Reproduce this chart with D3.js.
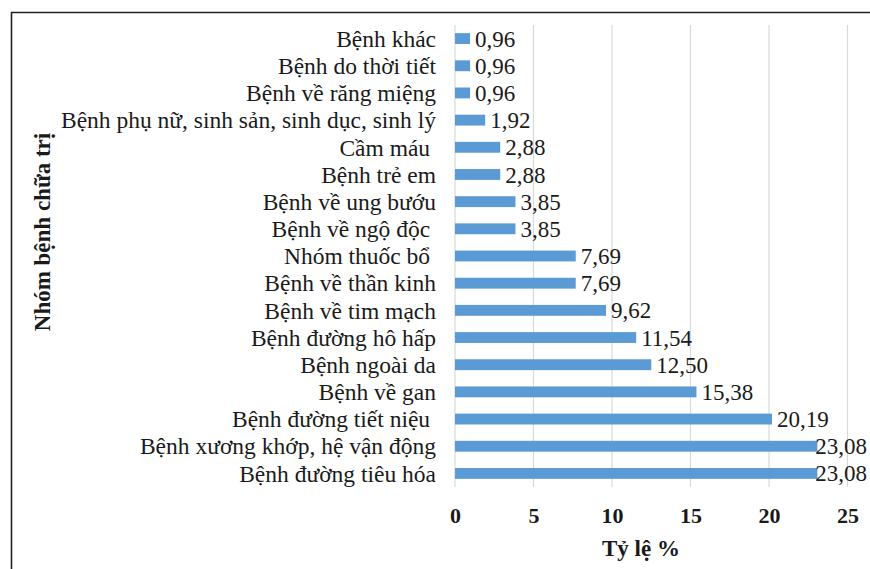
<!DOCTYPE html>
<html>
  <head>
    <meta charset="utf-8">
    <title>Nhóm bệnh chữa trị</title>
    <script src="https://d3js.org/d3.v7.min.js"></script>
    <style>
      body { margin: 0; background: #fff; }
      svg text { font-family: "Liberation Serif", "Times New Roman", serif; fill: #1a1a1a; }
      .tick text { font-weight: bold; font-size: 22px; }
    </style>
  </head>
  <body>
    <svg id="chart" width="870" height="569"></svg>
    <script>
      // chart data
      const categories = [
        "Bệnh khác",
        "Bệnh do thời tiết",
        "Bệnh về răng miệng",
        "Bệnh phụ nữ, sinh sản, sinh dục, sinh lý",
        "Cầm máu ",
        "Bệnh trẻ em",
        "Bệnh về ung bướu",
        "Bệnh về ngộ độc ",
        "Nhóm thuốc bổ ",
        "Bệnh về thần kinh",
        "Bệnh về tim mạch",
        "Bệnh đường hô hấp",
        "Bệnh ngoài da",
        "Bệnh về gan",
        "Bệnh đường tiết niệu ",
        "Bệnh xương khớp, hệ vận động",
        "Bệnh đường tiêu hóa"
      ];
      const values = [0.96, 0.96, 0.96, 1.92, 2.88, 2.88, 3.85, 3.85, 7.69, 7.69, 9.62, 11.54, 12.50, 15.38, 20.19, 23.08, 23.08];
      const xTicks = [0, 5, 10, 15, 20, 25];

      const data = categories.map(function(c, i) { return { name: c, value: values[i] }; });

      const chart = d3.select("#chart");
      const margin = { top: 25, right: 22, bottom: 82, left: 455 };
      const width = 870, height = 569;

      // frame
      chart.append("path")
        .attr("d", "M11.5," + height + "V12.5H" + width)
        .attr("fill", "none")
        .attr("stroke", "#222")
        .attr("stroke-width", 1.6);

      const x = d3.scaleLinear()
        .domain([0, 25])
        .range([margin.left, 847.5]);
      const y = d3.scaleBand()
        .domain(categories)
        .range([margin.top, height - margin.bottom])
        .paddingInner(0.6)
        .paddingOuter(0.3);

      // grid
      chart.append("g")
        .selectAll("line")
        .data(xTicks)
        .join("line")
          .attr("x1", function(d) { return x(d); })
          .attr("x2", function(d) { return x(d); })
          .attr("y1", margin.top)
          .attr("y2", height - margin.bottom)
          .attr("stroke", "#d9d9d9")
          .attr("stroke-width", 1.2);

      // x axis
      const axis = d3.axisBottom(x)
        .tickValues(xTicks)
        .tickSize(0)
        .tickPadding(20)
        .tickFormat(d3.format("d"));
      chart.append("g")
        .attr("transform", "translate(0," + (height - margin.bottom) + ")")
        .call(axis)
        .call(function(g) { g.select(".domain").remove(); })
        .selectAll("text")
          .attr("fill", "#111");

      // bars
      chart.append("g")
        .selectAll("rect")
        .data(data)
        .join("rect")
          .attr("x", x(0))
          .attr("y", function(d) { return y(d.name); })
          .attr("width", function(d) { return x(d.value) - x(0); })
          .attr("height", y.bandwidth())
          .attr("fill", "#5b9bd5");

      // category labels
      chart.append("g")
        .selectAll("text")
        .data(data)
        .join("text")
          .attr("x", 436)
          .attr("y", function(d) { return y(d.name) + y.bandwidth() / 2; })
          .attr("dy", "0.35em")
          .attr("text-anchor", "end")
          .style("font-size", "23.5px")
          .style("white-space", "pre")
          .text(function(d) { return d.name; });

      // value labels
      const fmt = function(v) { return d3.format(".2f")(v).replace(".", ","); };
      chart.append("g")
        .selectAll("text")
        .data(data)
        .join("text")
          .attr("x", function(d) { return x(d.value) + 5; })
          .attr("y", function(d) { return y(d.name) + y.bandwidth() / 2; })
          .attr("dy", "0.35em")
          .style("font-size", "23px")
          .text(function(d) { return fmt(d.value); })
          .each(function() {
            let t = d3.select(this);
            let w = this.getComputedTextLength();
            if (+t.attr("x") + w > 867) t.attr("x", 867).attr("text-anchor", "end");
          });

      // axis titles
      chart.append("text")
        .attr("x", 641)
        .attr("y", 556)
        .attr("text-anchor", "middle")
        .style("font-size", "23px")
        .style("font-weight", "bold")
        .attr("fill", "#111")
        .text("Tỷ lệ %");
      chart.append("text")
        .attr("transform", "translate(50,232) rotate(-90)")
        .attr("text-anchor", "middle")
        .style("font-size", "23px")
        .style("font-weight", "bold")
        .attr("fill", "#111")
        .text("Nhóm bệnh chữa trị");
    </script>
  </body>
</html>
